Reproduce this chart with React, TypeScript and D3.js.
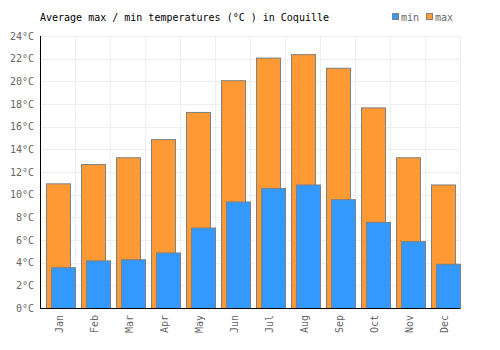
import { useRef, useEffect } from "react";
import * as d3 from "d3";

const months = ["Jan", "Feb", "Mar", "Apr", "May", "Jun", "Jul", "Aug", "Sep", "Oct", "Nov", "Dec"];
const maxTemps = [11.0, 12.7, 13.3, 14.9, 17.3, 20.1, 22.1, 22.4, 21.2, 17.7, 13.3, 10.9];
const minTemps = [3.6, 4.2, 4.3, 4.9, 7.1, 9.4, 10.6, 10.9, 9.6, 7.6, 5.9, 3.9];
const yTicks = [0, 2, 4, 6, 8, 10, 12, 14, 16, 18, 20, 22, 24];

const App = () => {
  const svgRef = useRef(null);

  useEffect(() => {
    const width = 500;
    const height = 350;
    const margin = { top: 36, right: 40, bottom: 42, left: 40 };
    const chartWidth = width - margin.left - margin.right;
    const chartHeight = height - margin.top - margin.bottom;
    const font = "'DejaVu Sans Mono', monospace";

    d3.select(svgRef.current).selectAll("*").remove();

    const root = d3.select(svgRef.current).attr("width", width).attr("height", height);

    root
      .append("text")
      .attr("x", 40)
      .attr("y", 21)
      .attr("font-family", font)
      .attr("font-size", 10)
      .attr("fill", "#000")
      .text("Average max / min temperatures (°C ) in Coquille");

    const svg = root.append("g").attr("transform", `translate(${margin.left},${margin.top})`);

    const xScale = d3.scaleBand().domain(months).range([0, chartWidth]);
    const yScale = d3.scaleLinear().domain([0, 24]).range([chartHeight, 0]);

    // grid
    svg
      .append("g")
      .selectAll("line")
      .data(yTicks)
      .join("line")
      .attr("x1", 0)
      .attr("x2", chartWidth)
      .attr("y1", (d) => Math.round(yScale(d)) + 0.5)
      .attr("y2", (d) => Math.round(yScale(d)) + 0.5)
      .attr("stroke", "#eeeeee");

    svg
      .append("g")
      .selectAll("line")
      .data(months.concat(["end"]))
      .join("line")
      .attr("x1", (_, i) => i * xScale.step() + 0.5)
      .attr("x2", (_, i) => i * xScale.step() + 0.5)
      .attr("y1", 0)
      .attr("y2", chartHeight)
      .attr("stroke", "#eeeeee");

    const bw = 24;

    svg
      .append("g")
      .selectAll("rect")
      .data(maxTemps)
      .join("rect")
      .attr("x", (_, i) => (xScale(months[i]) || 0) + 6.5)
      .attr("y", (d) => yScale(d) + 0.5)
      .attr("width", bw)
      .attr("height", (d) => chartHeight - yScale(d))
      .attr("fill", "#FF9933")
      .attr("stroke", "#808080")
      .attr("stroke-width", 1);

    svg
      .append("g")
      .selectAll("rect")
      .data(minTemps)
      .join("rect")
      .attr("x", (_, i) => (xScale(months[i]) || 0) + 11.5)
      .attr("y", (d) => yScale(d) + 0.5)
      .attr("width", bw)
      .attr("height", (d) => chartHeight - yScale(d))
      .attr("fill", "#3399FF")
      .attr("stroke", "#808080")
      .attr("stroke-width", 1);

    // axes lines
    svg
      .append("line")
      .attr("x1", 0.5)
      .attr("x2", 0.5)
      .attr("y1", 0)
      .attr("y2", chartHeight)
      .attr("stroke", "#000");
    svg
      .append("line")
      .attr("x1", 0)
      .attr("x2", chartWidth)
      .attr("y1", chartHeight + 0.5)
      .attr("y2", chartHeight + 0.5)
      .attr("stroke", "#000");

    svg
      .append("g")
      .selectAll("text")
      .data(yTicks)
      .join("text")
      .attr("x", -6)
      .attr("y", (d) => yScale(d))
      .attr("dy", "0.35em")
      .attr("text-anchor", "end")
      .attr("font-family", font)
      .attr("font-size", 10)
      .attr("fill", "#666")
      .text((d) => `${d}°C`);

    svg
      .append("g")
      .selectAll("text")
      .data(months)
      .join("text")
      .attr(
        "transform",
        (d) => `translate(${(xScale(d) || 0) + xScale.bandwidth() / 2 + 5},${chartHeight + 7}) rotate(-90)`,
      )
      .attr("text-anchor", "end")
      .attr("font-family", font)
      .attr("font-size", 10)
      .attr("fill", "#666")
      .text((d) => d);

    // legend
    const legend = root
      .append("g")
      .selectAll("g")
      .data([
        { label: "min", color: "#3399FF", x: 392 },
        { label: "max", color: "#FF9933", x: 426 },
      ])
      .join("g")
      .attr("transform", (d) => `translate(${d.x},13)`);

    legend
      .append("rect")
      .attr("x", 0.5)
      .attr("y", 0.5)
      .attr("width", 6)
      .attr("height", 6)
      .attr("fill", (d) => d.color)
      .attr("stroke", "#808080");

    legend
      .append("text")
      .attr("x", 9)
      .attr("y", 8)
      .attr("font-family", font)
      .attr("font-size", 10)
      .attr("fill", "#666")
      .text((d) => d.label);
  }, []);

  return (
    <div style={{ margin: -8 }}>
      <svg ref={svgRef}></svg>
    </div>
  );
};

export default App;
